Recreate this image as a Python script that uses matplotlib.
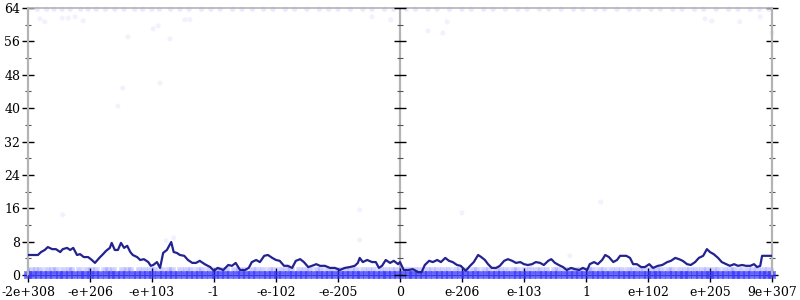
import numpy as np
import matplotlib
matplotlib.use('Agg')
import matplotlib.pyplot as plt
from matplotlib.ticker import MultipleLocator

# Tick labels along the x axis (one per unit on the axis)
x_labels = ['-2e+308', '-e+206', '-e+103', '-1', '-e-102', '-e-205', '0',
            'e-206', 'e-103', '1', 'e+102', 'e+205', '9e+307']

# Running average line
line_x = [0.00, 0.16, 0.21, 0.27, 0.32, 0.39, 0.45, 0.52, 0.56, 0.63, 0.68, 0.73,
          0.79, 0.84, 0.90, 0.97, 1.03, 1.08, 1.15, 1.21, 1.26, 1.32, 1.35, 1.40,
          1.45, 1.50, 1.55, 1.60, 1.65, 1.69, 1.76, 1.81, 1.87, 1.94, 1.98, 2.02,
          2.08, 2.13, 2.18, 2.24, 2.31, 2.35, 2.40, 2.45, 2.52, 2.58, 2.65, 2.71,
          2.77, 2.85, 2.94, 3.00, 3.06, 3.15, 3.23, 3.29, 3.35, 3.42, 3.50, 3.56,
          3.61, 3.68, 3.74, 3.81, 3.87, 3.94, 4.00, 4.06, 4.13, 4.19, 4.26, 4.32,
          4.39, 4.45, 4.52, 4.58, 4.65, 4.71, 4.79, 4.87, 4.95, 5.03, 5.11, 5.19,
          5.27, 5.32, 5.35, 5.40, 5.47, 5.55, 5.61, 5.66, 5.71, 5.77, 5.84, 5.90,
          5.97, 6.00, 6.06, 6.13, 6.21, 6.29, 6.35, 6.40, 6.47, 6.53, 6.60, 6.66,
          6.73, 6.79, 6.85, 6.92, 6.98, 7.06, 7.13, 7.19, 7.26, 7.31, 7.37, 7.42,
          7.48, 7.55, 7.61, 7.68, 7.74, 7.81, 7.87, 7.94, 8.00, 8.06, 8.13, 8.19,
          8.26, 8.32, 8.39, 8.44, 8.50, 8.56, 8.63, 8.69, 8.76, 8.82, 8.89, 8.95,
          9.02, 9.06, 9.13, 9.19, 9.26, 9.31, 9.37, 9.44, 9.50, 9.55, 9.65, 9.71,
          9.76, 9.82, 9.89, 9.95, 10.02, 10.08, 10.16, 10.23, 10.31, 10.37, 10.44,
          10.50, 10.56, 10.63, 10.69, 10.76, 10.82, 10.89, 10.95, 11.00, 11.06,
          11.13, 11.19, 11.26, 11.32, 11.39, 11.45, 11.52, 11.58, 11.65, 11.71,
          11.76, 11.81, 11.84, 12.00]
line_y = [4.8, 4.8, 5.5, 6.0, 6.7, 6.2, 6.2, 5.5, 6.2, 6.5, 6.0, 6.5,
          4.8, 5.0, 4.3, 4.3, 3.6, 2.9, 4.1, 5.0, 5.8, 6.5, 7.7, 6.0,
          6.0, 7.7, 6.5, 7.0, 5.5, 4.8, 4.3, 3.6, 3.8, 3.1, 2.2, 2.4,
          3.1, 1.7, 5.3, 6.0, 7.9, 5.5, 5.3, 4.8, 4.6, 3.6, 2.9, 2.9,
          3.4, 2.6, 1.9, 1.0, 1.7, 1.2, 2.4, 2.2, 2.9, 1.2, 1.2, 1.7,
          3.1, 3.6, 3.1, 4.6, 4.8, 4.1, 3.6, 3.4, 2.2, 2.2, 1.7, 3.4,
          3.8, 3.1, 1.9, 2.2, 2.6, 2.2, 2.2, 1.7, 1.7, 1.2, 1.7, 1.9,
          2.2, 2.9, 4.1, 3.1, 3.6, 3.1, 3.1, 1.7, 2.2, 3.6, 2.9, 3.4,
          2.6, 3.1, 1.2, 1.2, 1.4, 0.7, 0.7, 2.4, 3.4, 3.1, 3.6, 3.1,
          4.1, 3.4, 3.1, 2.4, 2.2, 1.0, 2.2, 3.1, 4.8, 4.3, 3.6, 2.6,
          1.7, 1.7, 2.2, 3.4, 3.8, 3.4, 2.9, 3.1, 2.6, 2.4, 2.6, 3.1,
          2.9, 2.4, 3.4, 3.8, 2.9, 2.4, 1.9, 1.2, 1.7, 1.4, 1.2, 1.7,
          1.2, 2.6, 3.1, 2.6, 3.6, 4.8, 4.3, 3.1, 3.6, 4.6, 4.6, 4.1,
          2.6, 2.6, 1.9, 1.9, 2.6, 1.7, 2.2, 2.4, 3.1, 3.4, 4.1,
          3.8, 3.4, 2.6, 2.4, 3.1, 4.1, 4.6, 6.2, 5.5,
          5.0, 4.1, 3.1, 2.6, 2.2, 2.6, 2.2, 2.4, 2.2, 2.2,
          2.6, 1.9, 2.2, 4.6, 4.6]

# Samples sitting at value 0 (dense band along the bottom)
zero_x = [0.00, 0.08, 0.17, 0.25, 0.33, 0.42, 0.51, 0.58, 0.67, 0.75, 0.84, 0.92,
          1.01, 1.09, 1.17, 1.26, 1.34, 1.42, 1.51, 1.59, 1.68, 1.76, 1.84, 1.93,
          2.01, 2.10, 2.18, 2.26, 2.35, 2.43, 2.52, 2.60, 2.68, 2.77, 2.85, 2.94,
          3.02, 3.10, 3.19, 3.27, 3.36, 3.44, 3.52, 3.61, 3.69, 3.78, 3.86, 3.94,
          4.03, 4.11, 4.20, 4.28, 4.36, 4.45, 4.53, 4.62, 4.70, 4.78, 4.87, 4.95,
          5.04, 5.12, 5.20, 5.29, 5.37, 5.46, 5.54, 5.62, 5.71, 5.79, 5.88, 5.96,
          6.04, 6.13, 6.21, 6.30, 6.38, 6.46, 6.55, 6.63, 6.72, 6.80, 6.88, 6.97,
          7.05, 7.14, 7.22, 7.30, 7.39, 7.47, 7.56, 7.64, 7.72, 7.81, 7.89, 7.98,
          8.06, 8.14, 8.23, 8.31, 8.40, 8.48, 8.56, 8.65, 8.73, 8.82, 8.90, 8.98,
          9.07, 9.15, 9.24, 9.32, 9.40, 9.49, 9.57, 9.66, 9.74, 9.82, 9.91, 9.99,
          10.08, 10.16, 10.24, 10.33, 10.41, 10.50, 10.58, 10.66, 10.75, 10.83,
          10.92, 11.00, 11.08, 11.17, 11.25, 11.34, 11.42, 11.50, 11.59, 11.67,
          11.76, 11.84, 11.92, 12.00]

# Samples at value 1 (lighter band just above)
one_x = [0.05, 0.13, 0.20, 0.31, 0.40, 0.46, 0.57, 0.66, 0.71, 0.83, 0.95, 1.02,
         1.10, 1.24, 1.30, 1.38, 1.52, 1.60, 1.66, 1.79, 1.88, 1.97, 2.05, 2.16,
         2.27, 2.33, 2.46, 2.55, 2.63, 2.74, 2.81, 2.92, 3.04, 3.12, 3.21, 3.33,
         3.41, 3.50, 3.62, 3.70, 3.79, 3.90, 3.97, 4.08, 4.17, 4.25, 4.38, 4.47,
         4.55, 4.66, 4.73, 4.84, 4.93, 5.02, 5.13, 5.22, 5.30, 5.41, 5.50, 5.58,
         5.69, 5.78, 5.87, 5.95, 6.06, 6.15, 6.24, 6.33, 6.44, 6.52, 6.61, 6.70,
         6.79, 6.90, 6.98, 7.07, 7.18, 7.25, 7.36, 7.44, 7.55, 7.63, 7.72, 7.83,
         7.90, 8.01, 8.10, 8.20, 8.28, 8.37, 8.49, 8.56, 8.66, 8.75, 8.84, 8.93,
         9.04, 9.11, 9.22, 9.30, 9.41, 9.50, 9.58, 9.68, 9.77, 9.86, 9.95, 10.05,
         10.14, 10.22, 10.33, 10.40, 10.51, 10.60, 10.69, 10.78, 10.88, 10.96,
         11.05, 11.13, 11.24, 11.33, 11.40, 11.50, 11.60, 11.68, 11.77, 11.86, 11.95]

# Samples at value 64 (row along the top)
top_x = [0.15, 0.30, 0.42, 0.55, 0.68, 0.85, 0.97, 1.10, 1.25, 1.40, 1.55, 1.72,
         1.85, 2.00, 2.12, 2.30, 2.45, 2.60, 2.80, 2.95, 3.10, 3.30, 3.45, 3.62,
         3.80, 3.95, 4.15, 4.30, 4.50, 4.70, 4.85, 5.00, 5.20, 5.40, 5.55, 5.75,
         5.90, 6.10, 6.25, 6.45, 6.60, 6.80, 7.00, 7.15, 7.35, 7.50, 7.70, 7.90,
         8.05, 8.25, 8.40, 8.60, 8.80, 8.95, 9.15, 9.30, 9.50, 9.70, 9.85, 10.05,
         10.20, 10.40, 10.55, 10.75, 10.90, 11.10, 11.30, 11.45, 11.65, 11.80, 11.95]

# Isolated samples elsewhere
other_x = [0.19, 0.27, 0.55, 0.65, 0.76, 0.89, 1.61, 2.02, 2.10, 2.29, 2.53, 2.61,
           1.53, 2.13, 1.45, 0.56, 2.23, 2.35, 5.35, 5.35, 7.00, 8.74, 5.55, 5.85,
           6.45, 6.69, 6.76, 10.92, 11.03, 11.48, 11.81, 12.00, 9.24, 4.20, 8.10]
other_y = [61.4, 60.7, 61.6, 61.6, 61.9, 60.9, 57.1, 59.0, 59.7, 56.6, 61.2, 61.2,
           44.8, 46.0, 40.5, 14.4, 8.2, 8.9, 15.6, 8.4, 14.9, 4.6, 61.9, 61.2,
           58.5, 58.0, 60.7, 61.4, 60.9, 60.7, 61.9, 58.0, 17.5, 2.0, 2.0]

plt.rcParams['font.family'] = ['DejaVu Serif']
plt.rcParams['font.size'] = 9

fig = plt.figure(figsize=(8, 3), dpi=100)
ax = fig.add_axes([0.035, 0.0833, 0.93, 0.89])

pt = dict(color='#3030ff', edgecolors='none', clip_on=False, zorder=2)
ax.scatter(zero_x, [0] * len(zero_x), s=26, marker='s', alpha=0.55, **pt)
ax.scatter(zero_x, [0] * len(zero_x), s=14, marker='s', alpha=0.3, **pt)
ax.scatter(one_x, [1] * len(one_x), s=24, marker='s', alpha=0.14, **pt)
ax.scatter(one_x, [1.2] * len(one_x), s=14, alpha=0.1, **pt)
ax.scatter(top_x, [63.7] * len(top_x), s=14, alpha=0.1, **pt)
ax.scatter(other_x, other_y, s=14, alpha=0.06, **pt)

ax.plot(line_x, line_y, color='#232390', linewidth=1.6, zorder=4)

ax.set_xlim(0, 12)
ax.set_ylim(0, 64)

grey = '#b4b4b4'
ax.axvline(6, color=grey, linewidth=1.6, zorder=1)
for side in ['left', 'right']:
    ax.spines[side].set_color(grey)
    ax.spines[side].set_linewidth(1.6)
ax.spines['top'].set_color(grey)
ax.spines['top'].set_linewidth(1.2)
ax.spines['bottom'].set_color('#3a3ae0')

ax.set_xticks(range(len(x_labels)))
ax.set_xticklabels(x_labels)
ax.yaxis.set_major_locator(MultipleLocator(8))
ax.yaxis.set_minor_locator(MultipleLocator(4))
ax.tick_params(axis='x', direction='inout', length=10, width=1, color='black', pad=3)
ax.tick_params(axis='y', which='major', direction='inout', length=9, width=1,
               color='black', right=True, pad=1)
ax.tick_params(axis='y', which='minor', direction='inout', length=5, width=0.8,
               color='#555555', right=True)

# Overlay axes whose left edge sits on the middle line, only to carry its ticks
mid = fig.add_axes([0.5, 0.0833, 0.465, 0.89])
mid.set_ylim(0, 64)
mid.patch.set_visible(False)
for sp in mid.spines.values():
    sp.set_visible(False)
mid.set_xticks([])
mid.yaxis.set_major_locator(MultipleLocator(8))
mid.yaxis.set_minor_locator(MultipleLocator(4))
mid.tick_params(axis='y', which='major', direction='inout', length=9, width=1,
                color='black', labelleft=False)
mid.tick_params(axis='y', which='minor', direction='inout', length=5, width=0.8,
                color='#555555')

fig.savefig('out.png', dpi=100)
